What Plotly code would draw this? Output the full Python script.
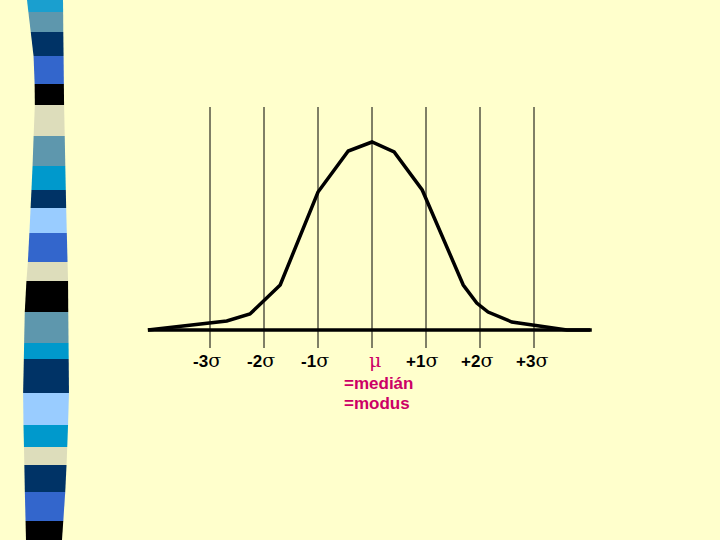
import plotly.graph_objects as go

# normal curve as drawn on the slide (x in sigma units, height in arbitrary units)
curve_x = [-4.15, -2.69, -2.26, -1.70, -1.00, -0.44, 0.0, 0.41, 0.93, 1.69, 1.94, 2.15, 2.59, 3.61, 4.04]
curve_y = [0, 9, 16, 45, 138, 179, 188, 178, 140, 45, 27, 18, 8, 0, 0]

tick_pos = [-3, -2, -1, 0, 1, 2, 3]
tick_prefix = ["-3", "-2", "-1", "", "+1", "+2", "+3"]
tick_symbol = ["σ", "σ", "σ", "μ", "σ", "σ", "σ"]
tick_colors = ["black", "black", "black", "#CC0066", "black", "black", "black"]
tick_shift = [-3, -3, -3, 3, -4, -3, -2]

# decorative stripe bar on the left of the slide (top, bottom in px, colour)
stripes = [
    (0, 12, "#1A9FCF"), (12, 32, "#5E97AD"), (32, 56, "#003366"), (56, 84, "#3366CC"),
    (84, 105, "#000000"), (105, 136, "#DDDDBB"), (136, 166, "#5E97AD"), (166, 190, "#0099CC"),
    (190, 208, "#003366"), (208, 233, "#99CCFF"), (233, 262, "#3366CC"), (262, 281, "#DDDDBB"),
    (281, 312, "#000000"), (312, 343, "#5E97AD"), (343, 359, "#0099CC"), (359, 393, "#003366"),
    (393, 425, "#99CCFF"), (425, 447, "#0099CC"), (447, 465, "#DDDDBB"), (465, 492, "#003366"),
    (492, 521, "#3366CC"), (521, 540, "#000000"),
]
left_edge = [(0, 27), (60, 34), (100, 35), (180, 32), (260, 28), (300, 25), (400, 23), (500, 25), (540, 26)]
right_edge = [(0, 63), (100, 64), (200, 66), (280, 68), (400, 69), (480, 66), (540, 62)]

W, H = 720, 540
X0, PX = 372, 54     # pixel of mu, pixels per sigma
BASE = 330           # pixel row of the baseline


def edge_at(edge, y):
    for (y1, x1), (y2, x2) in zip(edge, edge[1:]):
        if y1 <= y <= y2:
            return x1 + (x2 - x1) * (y - y1) / (y2 - y1)
    return edge[-1][1]


shapes = []
for top, bot, col in stripes:
    pts = [(edge_at(left_edge, top), top), (edge_at(right_edge, top), top),
           (edge_at(right_edge, bot), bot), (edge_at(left_edge, bot), bot)]
    path = "M " + " L ".join(f"{x / W:.4f},{1 - y / H:.4f}" for x, y in pts) + " Z"
    shapes.append(dict(type="path", path=path, xref="paper", yref="paper",
                       fillcolor=col, line=dict(width=0), layer="below"))

fig = go.Figure()

# vertical sigma lines
vx, vy = [], []
for t in tick_pos:
    vx += [t, t, None]
    vy += [-18, 223, None]
fig.add_trace(go.Scatter(x=vx, y=vy, mode="lines", line=dict(color="black", width=1),
                         hoverinfo="skip", showlegend=False))

# baseline
fig.add_trace(go.Scatter(x=[curve_x[0], curve_x[-1] + 0.03], y=[0, 0], mode="lines",
                         line=dict(color="black", width=3.5), showlegend=False))

# curve
fig.add_trace(go.Scatter(x=curve_x, y=curve_y, mode="lines",
                         line=dict(color="black", width=3.5), showlegend=False))

annotations = []
for t, pre, sym, col, sh in zip(tick_pos, tick_prefix, tick_symbol, tick_colors, tick_shift):
    txt = (f"<b>{pre}</b>" if pre else "") + f"<span style='font-family:DejaVu Serif;font-size:19px'>{sym}</span>"
    annotations.append(dict(x=t, y=-30, text=txt, showarrow=False, xshift=sh,
                            font=dict(family="Liberation Sans, Arial", size=17, color=col)))
for yy, txt in [(-53, "=medián"), (-73, "=modus")]:
    annotations.append(dict(x=-0.56, y=yy, text=f"<b>{txt}</b>", showarrow=False, xanchor="left",
                            font=dict(family="Liberation Sans, Arial", size=17, color="#CC0066")))

fig.update_layout(
    width=W, height=H,
    margin=dict(l=0, r=0, t=0, b=0),
    paper_bgcolor="#FFFFCC", plot_bgcolor="#FFFFCC",
    xaxis=dict(range=[-X0 / PX, (W - X0) / PX], visible=False, fixedrange=True),
    yaxis=dict(range=[BASE - H, BASE], visible=False, fixedrange=True),
    shapes=shapes, annotations=annotations,
)

fig.write_html("out.html", config={"displayModeBar": False},
               post_script="document.body.style.margin='0';")
